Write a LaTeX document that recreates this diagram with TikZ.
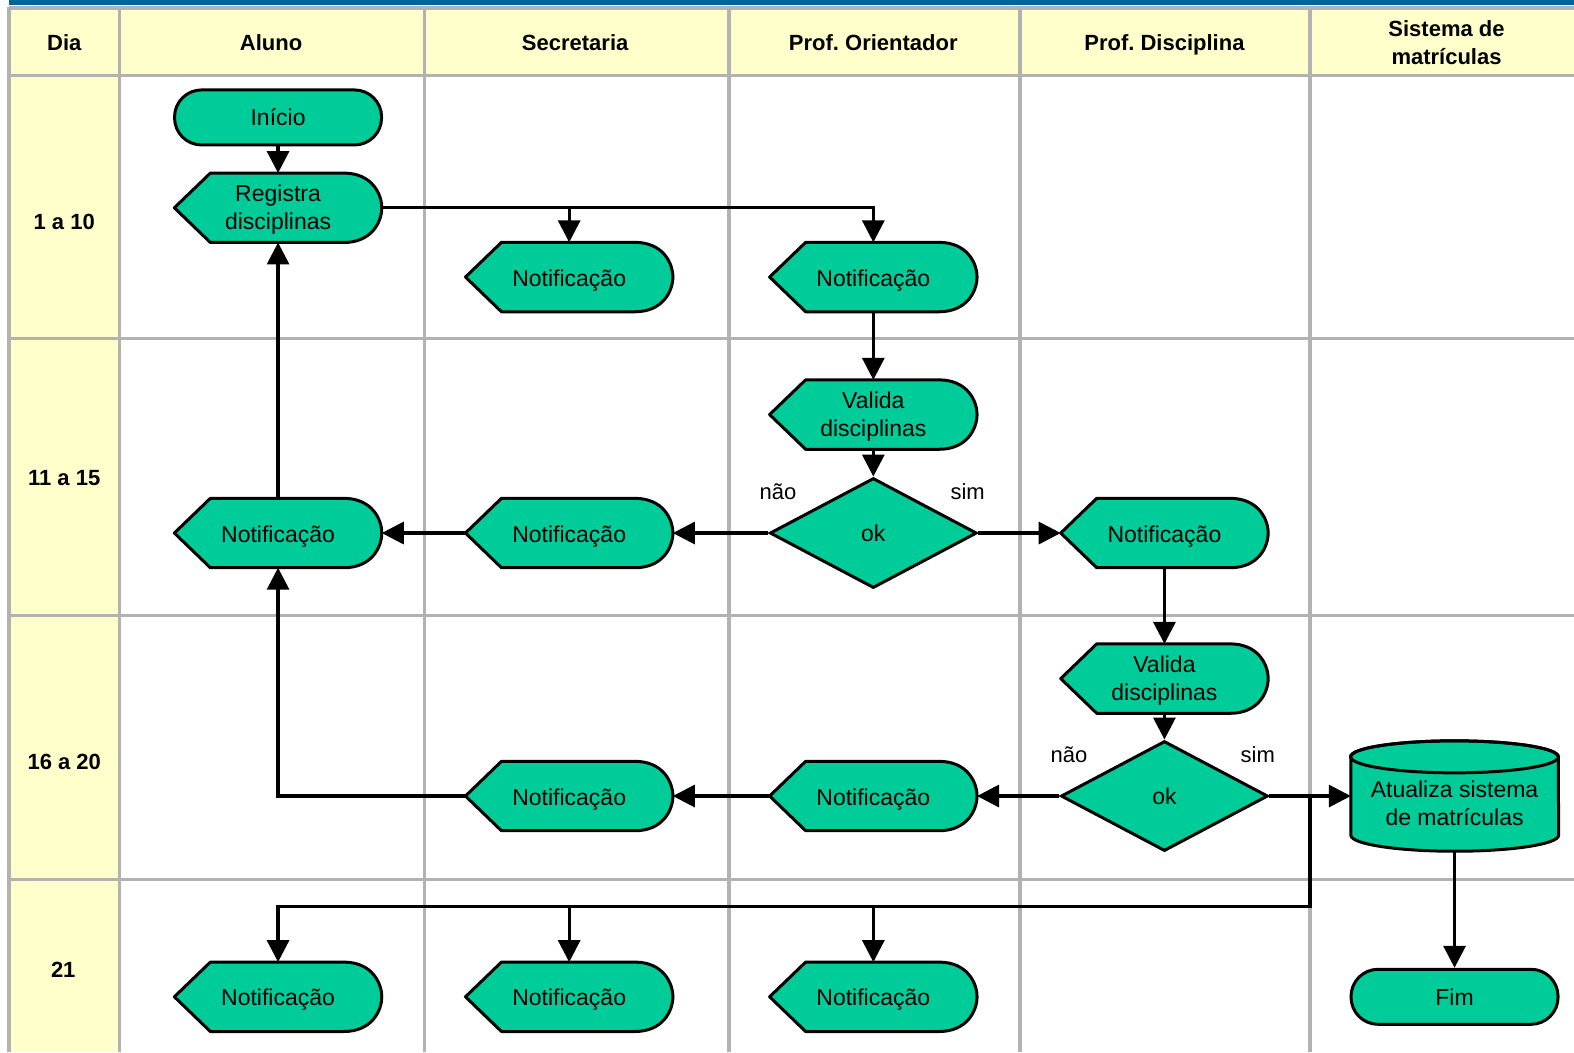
\documentclass[tikz,border=0pt]{standalone}
\usepackage{fontspec}
\setmainfont{Liberation Sans}
\frenchspacing
\usetikzlibrary{arrows.meta,shapes.geometric,calc}
\pgfdeclarelayer{bg}
\pgfdeclarelayer{shp}
\pgfsetlayers{bg,shp,main}
\definecolor{fillg}{RGB}{0,204,153}
\definecolor{hdr}{RGB}{255,255,204}
\definecolor{gridc}{RGB}{178,178,178}
\definecolor{topbar}{RGB}{0,102,153}
\tikzset{
  txt/.style={font=\fontsize{23}{28}\selectfont, align=center, inner sep=0pt},
  dispbox/.style={txt, minimum width=207pt, minimum height=69pt, text height=23pt, text depth=5pt},
  disptwo/.style={txt, minimum width=207pt, minimum height=69pt, text height=49pt, text depth=5pt},
  termbox/.style={txt, draw, fill=fillg, line width=3pt, rounded corners=27pt, minimum width=207pt, minimum height=55pt},
  decbox/.style={txt, diamond, draw, fill=fillg, line width=3pt, minimum width=207pt, minimum height=110pt},
  dbbox/.style={txt, minimum width=207pt, minimum height=110pt},
  shp/.style={draw, fill=fillg, line width=3pt, line join=round},
  hdrtxt/.style={font=\bfseries\fontsize{22}{28}\selectfont, align=center},
  hdrone/.style={hdrtxt, inner sep=0pt, text height=16pt, text depth=0pt},
  lbl/.style={font=\fontsize{22}{26}\selectfont},
  conn/.style={line width=3.2pt},
  arr/.style={conn, -{Triangle[length=22pt,width=22pt]}},
  gridln/.style={gridc, line width=3.5pt},
}
\newcommand\dispshape[1]{%
 \path[shp] (#1.west) -- ([xshift=36pt]#1.north west) -- ([xshift=-38pt]#1.north east)
   .. controls ([xshift=-10pt]#1.north east) and ([yshift=14pt]#1.east) .. (#1.east)
   .. controls ([yshift=-14pt]#1.east) and ([xshift=-10pt]#1.south east) .. ([xshift=-38pt]#1.south east)
   -- ([xshift=36pt]#1.south west) -- cycle;}
\begin{document}
\begin{tikzpicture}[x=1.0038pt,y=-1.0038pt]
\useasboundingbox (0,0) rectangle (1568,1048);
\begin{pgfonlayer}{bg}
\fill[white] (0,0) rectangle (1568,1048);
\fill[topbar] (9,0) rectangle (1568,5);
\fill[hdr] (9,8) rectangle (1568,75);
\fill[hdr] (9,75) rectangle (119,1048);
\foreach \x in {9,119,423,726,1016,1305} \draw[gridln] (\x,7) -- (\x,1048);
\foreach \y in {8,75,337,613,876} \draw[gridln] (9,\y) -- (1568,\y);
\end{pgfonlayer}
% headers
\node[hdrone] (hdia) at (64,42) {Dia};
\node[hdrone] (halu) at (270,42) {Aluno};
\node[hdrone] (hsec) at (573,42) {Secretaria};
\node[hdrone] (hori) at (870,42) {Prof. Orientador};
\node[hdrone] (hdis) at (1160,42) {Prof. Disciplina};
\node[hdrtxt] (hsis) at (1441,42) {Sistema de\\matrículas};
\node[hdrone] (r1) at (64,221) {1 a 10};
\node[hdrone] (r2) at (64,476) {11 a 15};
\node[hdrone] (r3) at (64,759) {16 a 20};
\node[hdrone] (r4) at (63,966) {21};
% nodes
\node[termbox] (ini) at (277,117) {Início};
\node[disptwo] (reg) at (277,207) {Registra\\disciplinas};
\node[dispbox] (ns1) at (567,276) {Notificação};
\node[dispbox] (no1) at (870,276) {Notificação};
\node[disptwo] (va1) at (870,413) {Valida\\disciplinas};
\node[decbox] (ok1) at (870,531) {ok};
\node[dispbox] (na2) at (277,531) {Notificação};
\node[dispbox] (ns2) at (567,531) {Notificação};
\node[dispbox] (nd2) at (1160,531) {Notificação};
\node[disptwo] (va2) at (1160,676) {Valida\\disciplinas};
\node[decbox] (ok2) at (1160,793) {ok};
\node[dispbox] (no3) at (870,793) {Notificação};
\node[dispbox] (ns3) at (567,793) {Notificação};
\node[dbbox] (db) at (1449,793) {\raisebox{-16pt}[0pt][0pt]{\begin{tabular}{@{}c@{}}Atualiza sistema\\de matrículas\end{tabular}}};
\node[dispbox] (na4) at (277,993) {Notificação};
\node[dispbox] (ns4) at (567,993) {Notificação};
\node[dispbox] (no4) at (870,993) {Notificação};
\node[termbox] (fim) at (1449,993) {Fim};
% labels
\node[lbl] (l1) at (775,490) {não};
\node[lbl] (l2) at (964,490) {sim};
\node[lbl] (l3) at (1065,752) {não};
\node[lbl] (l4) at (1253,752) {sim};
\begin{pgfonlayer}{shp}
\foreach \n in {reg,ns1,no1,va1,na2,ns2,nd2,va2,no3,ns3,na4,ns4,no4} {\dispshape{\n}}
\path[shp] ([yshift=-16pt]db.north west) -- ([yshift=16pt]db.south west)
  arc[start angle=180,end angle=360,x radius=103.9pt,y radius=16pt]
  -- ([yshift=-16pt]db.north east)
  arc[start angle=0,end angle=180,x radius=103.9pt,y radius=16pt] -- cycle;
\draw[line width=3pt] ([yshift=-16pt]db.north) ellipse [x radius=103.9pt,y radius=16pt];
\end{pgfonlayer}
% connectors
\coordinate (split) at (1305,793);
\coordinate (bus) at (1305,903);
\draw[arr] (ini) -- (reg);
\draw[arr] (reg.east) -| (ns1.north);
\draw[arr] (reg.east) -| (no1.north);
\draw[arr] (no1) -- (va1);
\draw[arr] (va1) -- (ok1);
\draw[arr] (ok1.west) -- (ns2.east);
\draw[arr] (ns2.west) -- (na2.east);
\draw[arr] (ok1.east) -- (nd2.west);
\draw[arr] (na2.north) -- (reg.south);
\draw[arr] (nd2) -- (va2);
\draw[arr] (va2) -- (ok2);
\draw[arr] (ok2.west) -- (no3.east);
\draw[arr] (no3.west) -- (ns3.east);
\draw[arr] (ns3.west) -| (na2.south);
\draw[arr] (ok2.east) -- (db.west);
\draw[arr] (split) -- (bus) -| (na4.north);
\draw[arr] (ns4.north |- bus) -- (ns4.north);
\draw[arr] (no4.north |- bus) -- (no4.north);
\draw[arr] (db.south) -- (fim.north);
\end{tikzpicture}
\end{document}
